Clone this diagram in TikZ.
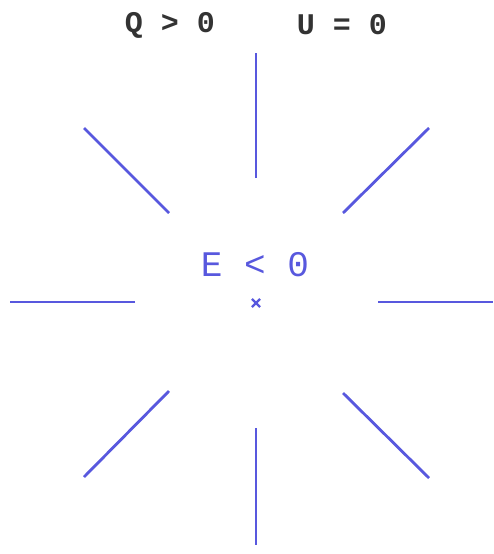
\documentclass[tikz,border=0pt]{standalone}
\usepackage{fontspec}
\usetikzlibrary{shapes.misc}
\setmonofont{Liberation Mono}
\definecolor{rayblue}{RGB}{88,88,222}
\begin{document}
\begin{tikzpicture}[x=1pt,y=-1pt,
  ray/.style={draw=rayblue,line width=2.8pt},
  lbl/.style={font=\ttfamily\bfseries\fontsize{30}{30}\selectfont,inner sep=0pt}]
\useasboundingbox[fill=white] (0,0) rectangle (493,554);
\node[lbl,text=black!80] (q) at (170,25) {Q > 0};
\node[lbl,text=black!80] (u) at (342,25) {U = 0};
\node[lbl,text=rayblue,font=\ttfamily\fontsize{36}{36}\selectfont] (e) at (255,265) {E < 0};
\node[inner sep=0pt,minimum size=6pt,draw=rayblue,cross out,line width=2.2pt] (c) at (256,303) {};
\foreach \n/\xa/\ya/\xb/\yb in {t/256/178/256/53, b/256/428/256/545, l/135/302/10/302, r/378/302/493/302,
  ul/169/213/84/128, ur/343/213/429/128, ll/169/391/84/477, lr/343/393/429/478}{
  \coordinate (\n1) at (\xa,\ya);
  \coordinate (\n2) at (\xb,\yb);
  \draw[ray] (\n1) -- (\n2);
}
\end{tikzpicture}
\end{document}
